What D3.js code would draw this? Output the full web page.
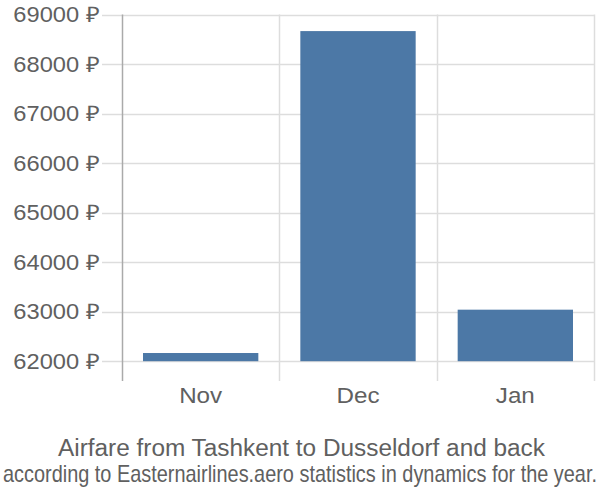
<!DOCTYPE html>
<html><head><meta charset="utf-8">
<script src="https://cdn.jsdelivr.net/npm/d3@7"></script>
<style>body{margin:0;background:#fff;} text{font-family:"Liberation Sans",Arial,sans-serif;}</style>
</head><body>
<svg id="c" width="600" height="500"></svg>
<script>
const categories = ["Nov", "Dec", "Jan"];
const values = [62165, 68665, 63040];
const tickValues = [62000, 63000, 64000, 65000, 66000, 67000, 68000, 69000];
const title = "Airfare from Tashkent to Dusseldorf and back";
const subtitle = "according to Easternairlines.aero statistics in dynamics for the year.";

(function () {
const svg = d3.select("#c");
const mLeft = 122, mRight = 594, mTop = 14.5, mBottom = 381;
const y = d3.scaleLinear().domain([61600, 69000]).range([mBottom, mTop]);
const x = d3.scaleBand().domain(categories).range([mLeft, mRight]).paddingInner(0).paddingOuter(0);
const pad = 21;
const txt = "#606060";
const stretch = 1.1;

function widen(sel) {
  sel.each(function () {
    const w = this.getComputedTextLength();
    d3.select(this).attr("textLength", w * stretch).attr("lengthAdjust", "spacingAndGlyphs");
  });
}

svg.append("g").selectAll("line").data(tickValues).join("line")
  .attr("x1", 102).attr("x2", mRight)
  .attr("y1", d => Math.round(y(d)) + 0.5).attr("y2", d => Math.round(y(d)) + 0.5)
  .attr("stroke", "#dddddd").attr("stroke-width", 1.5);

const seps = categories.map(c => x(c) + x.bandwidth());
svg.append("g").selectAll("line").data(seps).join("line")
  .attr("x1", d => Math.round(d) + 0.5).attr("x2", d => Math.round(d) + 0.5)
  .attr("y1", mTop).attr("y2", mBottom)
  .attr("stroke", "#dddddd").attr("stroke-width", 1.5);

svg.append("g").selectAll("rect").data(values).join("rect")
  .attr("x", (d, i) => x(categories[i]) + pad)
  .attr("width", x.bandwidth() - 2 * pad)
  .attr("y", d => y(d))
  .attr("height", d => y(62000) - y(d))
  .attr("fill", "#4c78a6");

svg.append("line").attr("x1", mLeft + 0.5).attr("x2", mLeft + 0.5)
  .attr("y1", mTop).attr("y2", mBottom).attr("stroke", "#aaaaaa").attr("stroke-width", 1.5);

svg.append("g").selectAll("text").data(tickValues).join("text")
  .attr("x", 100).attr("y", d => y(d)).attr("dy", "0.35em")
  .attr("text-anchor", "end").attr("font-size", 21.5).attr("fill", txt)
  .text(d => d + " ₽").call(widen);

svg.append("g").selectAll("text").data(categories).join("text")
  .attr("x", d => x(d) + x.bandwidth() / 2).attr("y", 403)
  .attr("text-anchor", "middle").attr("font-size", 22).attr("fill", txt)
  .text(d => d).call(widen);

svg.append("text").attr("x", 301.5).attr("y", 456).attr("text-anchor", "middle")
  .attr("font-size", 23).attr("fill", txt)
  .attr("textLength", 487).attr("lengthAdjust", "spacingAndGlyphs").text(title);
svg.append("text").attr("x", 300).attr("y", 482).attr("text-anchor", "middle")
  .attr("font-size", 24).attr("fill", txt)
  .attr("textLength", 594).attr("lengthAdjust", "spacingAndGlyphs").text(subtitle);
})();
</script>
</body></html>
